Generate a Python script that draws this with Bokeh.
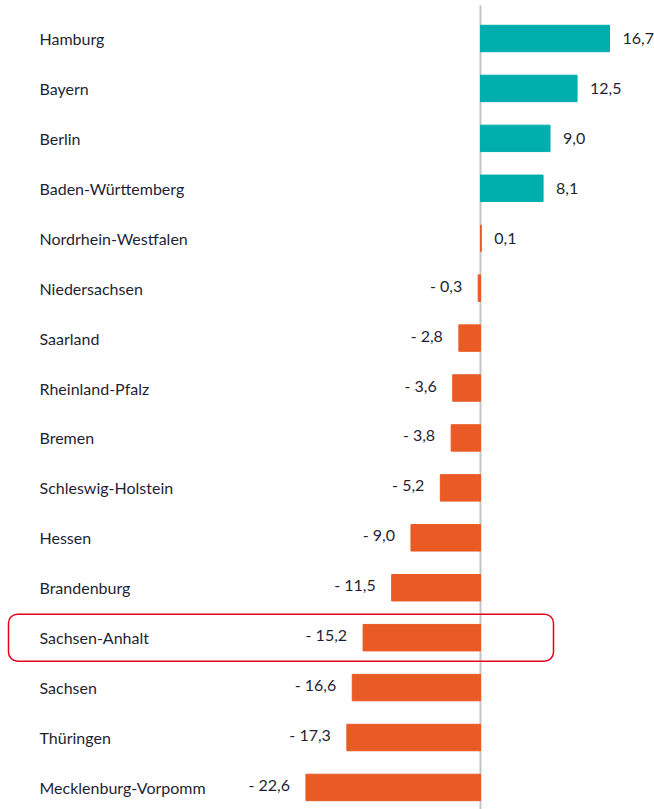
from bokeh.plotting import figure
from bokeh.models import ColumnDataSource, Range1d, BoxAnnotation
from bokeh.core.properties import value
from bokeh.embed import file_html
from bokeh.resources import INLINE

states = ["Hamburg", "Bayern", "Berlin", "Baden-Württemberg", "Nordrhein-Westfalen",
          "Niedersachsen", "Saarland", "Rheinland-Pfalz", "Bremen", "Schleswig-Holstein",
          "Hessen", "Brandenburg", "Sachsen-Anhalt", "Sachsen", "Thüringen",
          "Mecklenburg-Vorpomm"]
values = [16.7, 12.5, 9.0, 8.1, 0.1, -0.3, -2.8, -3.6, -3.8, -5.2,
          -9.0, -11.5, -15.2, -16.6, -17.3, -22.6]
highlight = "Sachsen-Anhalt"

TEAL = "#00AEAE"
ORANGE = "#E95A24"
TXT = "#1f1f33"
FONT = "Lato"

W, H = 654, 809
px_per_unit = 7.725
zero_px = 480
row_px = 49.93
first_row_px = 38

x0 = -zero_px / px_per_unit
x1 = (W - zero_px) / px_per_unit
y_top = -first_row_px / row_px
y_bot = (H - first_row_px) / row_px

idx = list(range(len(states)))
colors = [TEAL if (v > 0 and i < 4) else ORANGE for i, v in enumerate(values)]

def fmt(v):
    s = f"{abs(v):.1f}".replace(".", ",")
    return ("- " + s) if v < 0 else s

src = ColumnDataSource(dict(
    y=idx, v=values, c=colors, name=states,
    lab=[fmt(v) for v in values],
    lx=[x0] * len(states),
))
pos = ColumnDataSource(dict(y=[i for i in idx if values[i] >= 0],
                            v=[values[i] for i in idx if values[i] >= 0],
                            lab=[fmt(values[i]) for i in idx if values[i] >= 0]))
neg = ColumnDataSource(dict(y=[i for i in idx if values[i] < 0],
                            v=[values[i] for i in idx if values[i] < 0],
                            lab=[fmt(values[i]) for i in idx if values[i] < 0]))

p = figure(width=W, height=H, output_backend="svg", toolbar_location=None,
           x_range=Range1d(x0, x1), y_range=Range1d(y_bot, y_top),
           min_border=0, min_border_left=0, min_border_right=0,
           min_border_top=0, min_border_bottom=0)
p.axis.visible = False
p.grid.visible = False
p.outline_line_color = None
p.background_fill_color = "white"
p.border_fill_color = "white"

# zero line
p.segment(x0=[0], y0=[y_top + 5 / row_px], x1=[0], y1=[y_bot], line_color="#c4c4c4", line_width=2)

p.hbar(y="y", left=0, right="v", height=0.53, fill_color="c", line_color="c",
       line_width=1, source=src)

p.text(x="lx", y="y", text="name", source=src, x_offset=39,
       text_font=value(FONT), text_font_size="16px", text_color=TXT,
       text_align="left", text_baseline="middle")

p.text(x="v", y="y", text="lab", source=pos, x_offset=13,
       text_font=value(FONT), text_font_size="16px", text_color=TXT,
       text_align="left", text_baseline="middle")
p.text(x="v", y="y", text="lab", source=neg, x_offset=-16, y_offset=-3,
       text_font=value(FONT), text_font_size="16px", text_color=TXT,
       text_align="right", text_baseline="middle")

hi = states.index(highlight)
box = BoxAnnotation(left=x0 + 8 / px_per_unit, right=x0 + 553 / px_per_unit,
                    top=hi - 23.5 / row_px, bottom=hi + 23.5 / row_px,
                    fill_color=None, fill_alpha=0, line_color="#E3001B",
                    line_alpha=1.0, line_width=1.5, border_radius=9)
p.add_layout(box)

open("out.html", "w").write(file_html(p, INLINE))
